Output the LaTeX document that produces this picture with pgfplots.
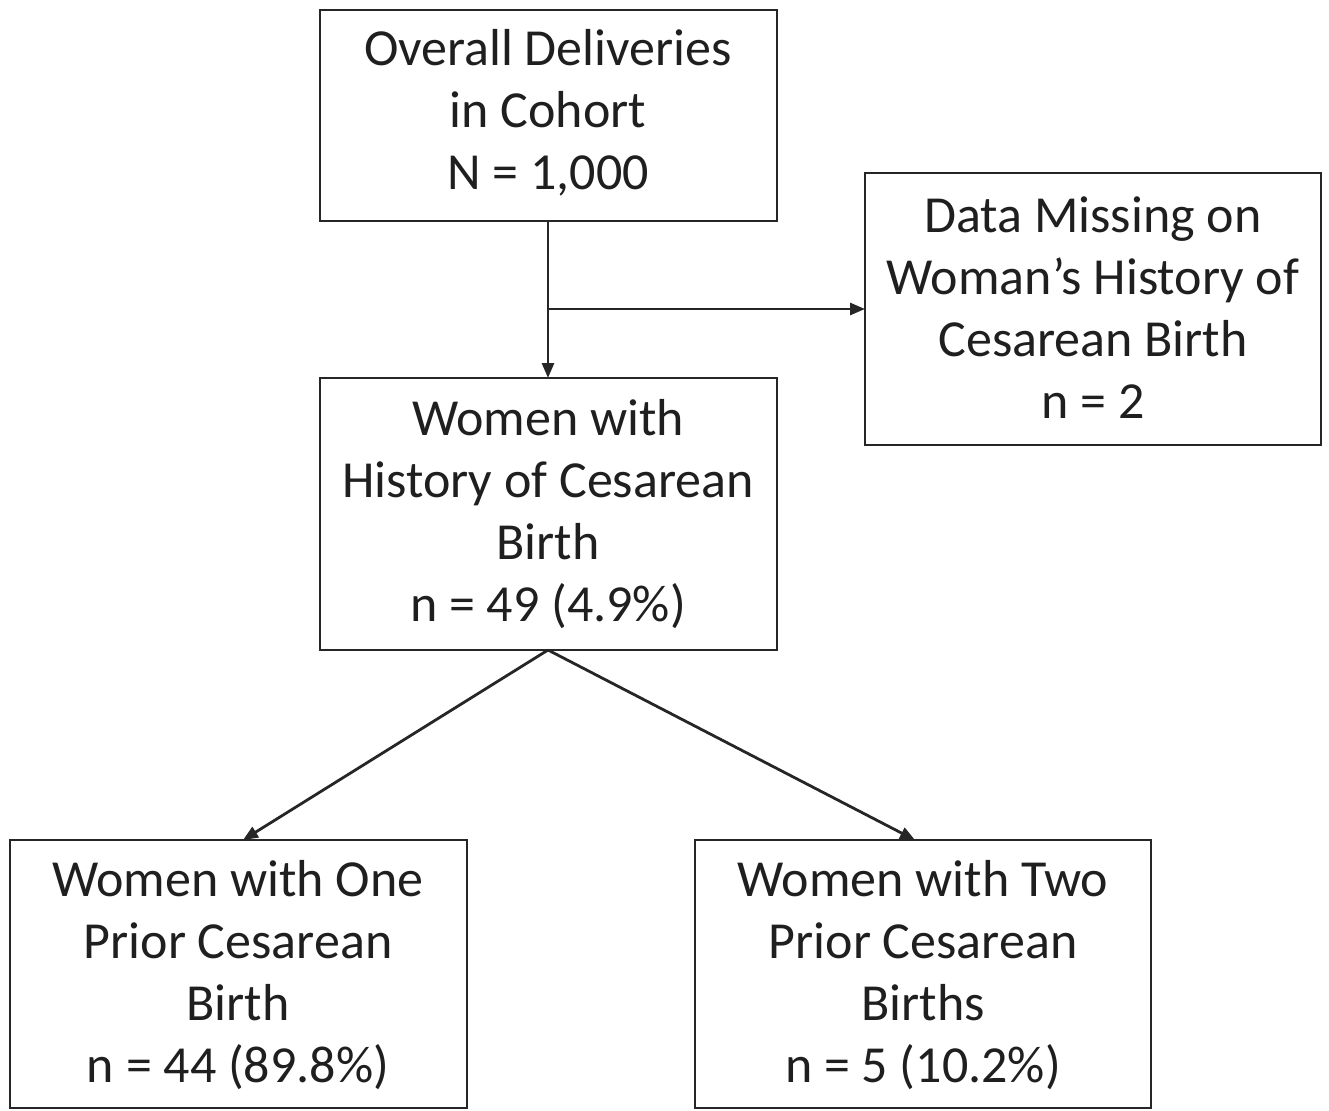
\documentclass[border=0pt]{standalone}
\usepackage{pgfplots}
\pgfplotsset{compat=1.18}
\usepackage{fontspec}
\setmainfont{Carlito}
\usetikzlibrary{arrows.meta}
\begin{document}
\begin{tikzpicture}
\begin{axis}[width=1329pt,height=1110pt,scale only axis,hide axis,
  xmin=0,xmax=1329,ymin=0,ymax=1110,y dir=reverse,clip=false]
\addplot[draw=none,forget plot] coordinates {(0,0) (1329,1110)};
\tikzset{bx/.style={line width=2.8pt,draw=black!85},
  tx/.style={align=center,font=\fontsize{52}{62}\selectfont,text=black!88,inner sep=0pt},
  ar/.style={line width=2.8pt,draw=black!85,-{Triangle[length=15pt,width=12pt]}}}
\draw[bx] (axis cs:320,10) rectangle (axis cs:777,221);
\draw[bx] (axis cs:865,173) rectangle (axis cs:1321,445);
\draw[bx] (axis cs:320,378) rectangle (axis cs:777,650);
\draw[bx] (axis cs:10,840) rectangle (axis cs:467,1108);
\draw[bx] (axis cs:695,840) rectangle (axis cs:1151,1108);
\draw[ar] (axis cs:548,221) -- (axis cs:548,378);
\draw[ar] (axis cs:548,309) -- (axis cs:865,309);
\draw[ar] (axis cs:548,650) -- (axis cs:243,840);
\draw[ar] (axis cs:548,650) -- (axis cs:915,840);
\node[tx] at (axis cs:548,113) {Overall Deliveries\\in Cohort\\N = 1,000};
\node[tx] at (axis cs:1093,308) {Data Missing on\\Woman’s History of\\Cesarean Birth\\n = 2};
\node[tx] at (axis cs:548,514) {Women with\\History of Cesarean\\Birth\\n = 49 (4.9\%)};
\node[tx] at (axis cs:238,975) {Women with One\\Prior Cesarean\\Birth\\n = 44 (89.8\%)};
\node[tx] at (axis cs:923,975) {Women with Two\\Prior Cesarean\\Births\\n = 5 (10.2\%)};
\end{axis}
\end{tikzpicture}
\end{document}
